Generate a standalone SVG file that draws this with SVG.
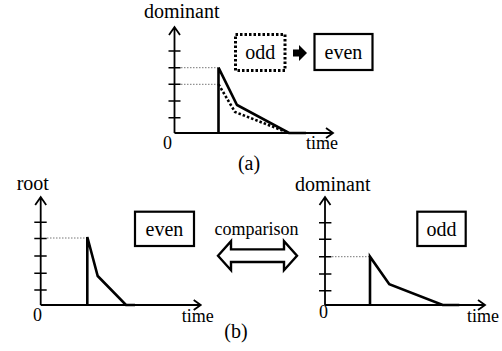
<svg xmlns="http://www.w3.org/2000/svg" width="502" height="351" viewBox="0 0 502 351" font-family="Liberation Serif, DejaVu Serif, serif">
<style>
text{font-family:'Liberation Serif','DejaVu Serif',serif;font-size:20px;fill:#000}
.sm{font-size:18px}
.ax{stroke:#000;stroke-width:1.8;fill:none}
.tk{stroke:#000;stroke-width:1.6;fill:none}
.cv{stroke:#000;stroke-width:2.6;fill:none;stroke-linejoin:miter}
.dc{stroke:#000;stroke-width:2.6;fill:none;stroke-dasharray:2.5 2}
.gd{stroke:#777;stroke-width:1;fill:none;stroke-dasharray:1.5 1.5}
.box{fill:#fff;stroke:#000;stroke-width:2.2}
.dbox{fill:#fff;stroke:#000;stroke-width:3;stroke-dasharray:2.5 2}
.mid{text-anchor:middle}
</style>
<rect width="502" height="351" fill="#fff"/>
<g id="connectors">
<polygon id="arrow-a" points="293,49.5 299,49.5 299,45 307,53 299,61 299,56.5 293,56.5" fill="#000"/>
<polygon id="arrow-comparison" points="218,255.7 231,241.2 231,249.4 284,249.4 284,241.2 297,255.7 284,270.2 284,262 231,262 231,270.2" fill="#fff" stroke="#000" stroke-width="2.4"/>
<text x="256.5" y="235" class="mid sm">comparison</text>
</g>
<g id="chart-a">
<path class="ax" d="M174.5,133V28M169,35L174.5,27L180,35M174.5,133H333M326,128L333,133L326,138"/>
<path class="tk" d="M168.5,51H180.5M168.5,67.7H180.5M168.5,84.3H180.5M168.5,101H180.5M168.5,117.7H180.5"/>
<path class="gd" d="M181,67.7H218M181,84.3H218"/>
<path class="dc" d="M218.5,84.3L235,112L289,133"/>
<path class="cv" d="M218.5,133V67.7L237,105L289,133H306"/>
<text x="144" y="18">dominant</text>
<text x="163" y="149" class="sm">0</text>
<text x="306" y="149" class="sm">time</text>
<text x="249" y="170" class="mid">(a)</text>
</g>
<g id="node-odd-a">
<rect class="dbox" x="235.5" y="34.5" width="49.5" height="36"/>
<text x="260.2" y="59" class="mid">odd</text>
</g>
<g id="node-even-a">
<rect class="box" x="314.5" y="34" width="58" height="36"/>
<text x="343.5" y="59" class="mid">even</text>
</g>
<g id="chart-b-left">
<path class="ax" d="M40.7,305V198M35.2,205L40.7,197L46.2,205M40.7,305H200.7M193.7,300L200.7,305L193.7,310"/>
<path class="tk" d="M34.3,222.3H46.7M34.3,238.5H46.7M34.3,256H46.7M34.3,273.3H46.7M34.3,290H46.7"/>
<path class="gd" d="M47,238H87"/>
<path class="cv" d="M87.3,305V237L97.7,276L126,305H135"/>
<text x="16.7" y="190">root</text>
<text x="33" y="321" class="sm">0</text>
<text x="181.7" y="322" class="sm">time</text>
</g>
<g id="node-even-b">
<rect class="box" x="135" y="211.7" width="59" height="34.3"/>
<text x="164.5" y="235.5" class="mid">even</text>
</g>
<g id="chart-b-right">
<path class="ax" d="M325,305V198M319.5,205L325,197L330.5,205M325,305H485M478,300L485,305L478,310"/>
<path class="tk" d="M319,222.7H331.4M319,239.3H331.4M319,256.7H331.4M319,274H331.4M319,290.7H331.4"/>
<path class="gd" d="M332,256.7H370"/>
<path class="cv" d="M370,305V256.7L389.3,284.3L442.7,305H459.3"/>
<text x="295" y="191">dominant</text>
<text x="319" y="318" class="sm">0</text>
<text x="467" y="322" class="sm">time</text>
<text x="236" y="338" class="mid">(b)</text>
</g>
<g id="node-odd-b">
<rect class="box" x="417.3" y="211.7" width="48.4" height="34.3"/>
<text x="441.5" y="235.5" class="mid">odd</text>
</g>
</svg>
